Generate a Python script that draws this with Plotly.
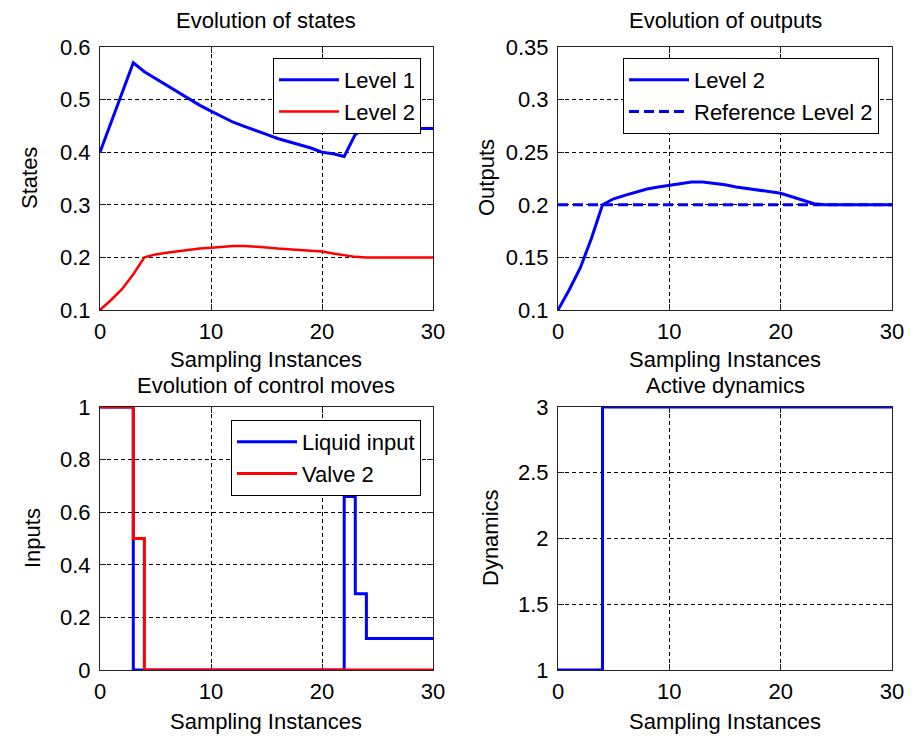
import plotly.graph_objects as go

# ---------------- data ----------------
t = list(range(31))
level1 = [0.400, 0.457, 0.513, 0.570, 0.553, 0.540, 0.527, 0.515, 0.502, 0.489,
          0.478, 0.467, 0.457, 0.449, 0.442, 0.434, 0.426, 0.420, 0.415, 0.408,
          0.400, 0.397, 0.392, 0.434, 0.445, 0.445, 0.445, 0.445, 0.445, 0.445, 0.445]
level2 = [0.100, 0.119, 0.140, 0.168, 0.200, 0.2057, 0.209, 0.212, 0.215, 0.217,
          0.2185, 0.220, 0.2217, 0.2217, 0.2207, 0.219, 0.217, 0.2155, 0.2137, 0.2125,
          0.211, 0.2076, 0.204, 0.201, 0.200, 0.200, 0.200, 0.200, 0.200, 0.200, 0.200]
ref_level2 = [0.2] * 31
liquid_input = [1, 1, 1, 0, 0, 0, 0, 0, 0, 0, 0, 0, 0, 0, 0, 0, 0, 0, 0, 0, 0, 0,
                0.66, 0.29, 0.12, 0.12, 0.12, 0.12, 0.12, 0.12, 0.12]
valve2 = [1, 1, 1, 0.5] + [0] * 27
dynamics = [1, 1, 1, 1] + [3] * 27

x_ticks = [0, 10, 20, 30]
states_ticks = [0.1, 0.2, 0.3, 0.4, 0.5, 0.6]
outputs_ticks = [0.1, 0.15, 0.2, 0.25, 0.3, 0.35]
inputs_ticks = [0, 0.2, 0.4, 0.6, 0.8, 1]
dyn_ticks = [1, 1.5, 2, 2.5, 3]

# ---------------- layout helpers ----------------
W, H = 915, 738
FONT = "Liberation Sans, Arial, sans-serif"
FS = 22
LFS = 22
BLUE = "#0000ff"
RED = "#ff0000"

def px_x(p):
    return p / W

def px_y(p):
    return 1 - p / H

left_dom = [px_x(100), px_x(433)]
right_dom = [px_x(558), px_x(892)]
top_dom = [px_y(310), px_y(47)]
bot_dom = [px_y(670), px_y(407)]

fig = go.Figure()

# top-left
fig.add_trace(go.Scatter(x=t, y=level1, mode="lines", name="Level 1",
                         line=dict(color=BLUE, width=3), xaxis="x", yaxis="y", legend="legend"))
fig.add_trace(go.Scatter(x=t, y=level2, mode="lines", name="Level 2",
                         line=dict(color=RED, width=2.5), xaxis="x", yaxis="y", legend="legend"))
# top-right
fig.add_trace(go.Scatter(x=t, y=level2, mode="lines", name="Level 2",
                         line=dict(color=BLUE, width=3), xaxis="x2", yaxis="y2", legend="legend2"))
fig.add_trace(go.Scatter(x=t, y=ref_level2, mode="lines", name="Reference Level 2",
                         line=dict(color=BLUE, width=3, dash="10px,5px"), xaxis="x2", yaxis="y2",
                         legend="legend2"))
# bottom-left
fig.add_trace(go.Scatter(x=t, y=liquid_input, mode="lines", name="Liquid input",
                         line=dict(color=BLUE, width=3, shape="hv"), xaxis="x3", yaxis="y3",
                         legend="legend3"))
fig.add_trace(go.Scatter(x=t, y=valve2, mode="lines", name="Valve 2",
                         line=dict(color=RED, width=3, shape="hv"), xaxis="x3", yaxis="y3",
                         legend="legend3"))
# bottom-right
fig.add_trace(go.Scatter(x=t, y=dynamics, mode="lines", name="Dynamics",
                         line=dict(color=BLUE, width=3, shape="hv"), xaxis="x4", yaxis="y4",
                         showlegend=False))

axis_common = dict(
    showline=True, linecolor="#222222", linewidth=1, mirror="ticks",
    ticks="inside", ticklen=6, tickcolor="#222222",
    showgrid=True, gridcolor="#000000", gridwidth=1, griddash="4px,3px",
    zeroline=False, layer="below traces", automargin=False,
    tickfont=dict(family=FONT, size=FS, color="#000000"),
    fixedrange=True,
)

def xaxis(dom, anchor):
    return dict(axis_common, domain=dom, anchor=anchor, range=[0, 30],
                tickmode="array", tickvals=x_ticks, ticktext=[str(v) for v in x_ticks],
                ticklabelstandoff=2)

def yaxis(dom, anchor, rng, ticks):
    return dict(axis_common, domain=dom, anchor=anchor, range=rng,
                tickmode="array", tickvals=ticks, ticktext=[f"{v:g}" for v in ticks],
                ticklabelstandoff=4)

legend_common = dict(
    bgcolor="#ffffff", bordercolor="#000000", borderwidth=1,
    font=dict(family=FONT, size=LFS, color="#000000"),
    xanchor="right", yanchor="top", itemwidth=60, tracegroupgap=0,
)

fig.update_layout(
    width=W, height=H,
    margin=dict(l=0, r=0, t=0, b=0, pad=0),
    paper_bgcolor="#ffffff", plot_bgcolor="#ffffff",
    font=dict(family=FONT, size=FS, color="#000000"),
    xaxis=xaxis(left_dom, "y"),
    yaxis=yaxis(top_dom, "x", [0.1, 0.6], states_ticks),
    xaxis2=xaxis(right_dom, "y2"),
    yaxis2=yaxis(top_dom, "x2", [0.1, 0.35], outputs_ticks),
    xaxis3=xaxis(left_dom, "y3"),
    yaxis3=yaxis(bot_dom, "x3", [0, 1], inputs_ticks),
    xaxis4=xaxis(right_dom, "y4"),
    yaxis4=yaxis(bot_dom, "x4", [1, 3], dyn_ticks),
    legend=dict(legend_common, x=px_x(421), y=px_y(58)),
    legend2=dict(legend_common, x=px_x(879), y=px_y(58)),
    legend3=dict(legend_common, x=px_x(421), y=px_y(420)),
    showlegend=True,
)

def label(text, x, y, angle=0):
    fig.add_annotation(text=text, x=px_x(x), y=px_y(y), xref="paper", yref="paper",
                       xanchor="center", yanchor="middle", showarrow=False, textangle=angle,
                       font=dict(family=FONT, size=FS, color="#000000"))

# titles
label("Evolution of states", 266, 21)
label("Evolution of outputs", 725, 21)
label("Evolution of control moves", 266, 386)
label("Active dynamics", 725, 386)
# x-axis titles
label("Sampling Instances", 266, 359)
label("Sampling Instances", 725, 359)
label("Sampling Instances", 266, 721)
label("Sampling Instances", 725, 721)
# y-axis titles
label("States", 30, 178, -90)
label("Outputs", 487, 178, -90)
label("Inputs", 32, 538, -90)
label("Dynamics", 490, 538, -90)

fig.write_html("out.html")
